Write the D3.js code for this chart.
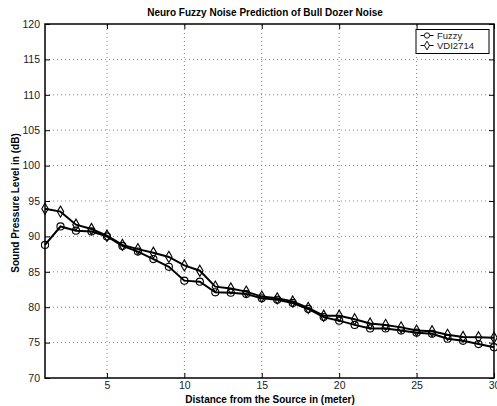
<!DOCTYPE html>
<html>
<head>
<meta charset="utf-8">
<script src="https://cdn.jsdelivr.net/npm/d3@7"></script>
<style>
  body { margin: 0; background: #fff; }
  svg { display: block; font-family: "Liberation Sans", Arial, sans-serif; }
</style>
</head>
<body>
<div id="chart"></div>
<script>
// distance in meters
const distance = d3.range(1, 31);
const fuzzy = [88.8, 91.4, 90.8, 90.7, 90.0, 88.65, 87.85, 86.8, 85.7, 83.75,
  83.6, 82.1, 82.05, 81.85, 81.25, 81.05, 80.6, 79.75, 78.6, 78.1,
  77.5, 77.0, 77.0, 76.7, 76.4, 76.25, 75.55, 75.25, 74.8, 74.35];
const vdi2714 = [93.9, 93.5, 91.65, 91.05, 90.1, 88.8, 88.2, 87.7, 87.1, 85.9,
  85.15, 82.9, 82.65, 82.2, 81.5, 81.25, 80.8, 79.9, 78.8, 78.8,
  78.3, 77.7, 77.5, 77.15, 76.7, 76.6, 76.1, 75.8, 75.75, 75.7];
const xTicks = [5, 10, 15, 20, 25, 30];
const yTicks = [70, 75, 80, 85, 90, 95, 100, 105, 110, 115, 120];

const W = 497, H = 406;
const m = { left: 45, right: 3, top: 24, bottom: 28 };

const svg = d3.select("#chart").append("svg").attr("width", W).attr("height", H);

const x = d3.scaleLinear().domain([1, 30]).range([m.left, W - m.right]);
const y = d3.scaleLinear().domain([70, 120]).range([H - m.bottom, m.top]);

// grid
const grid = svg.append("g").attr("stroke", "#666").attr("stroke-width", 0.8)
  .attr("stroke-dasharray", "1,3");
grid.selectAll(".gx").data(xTicks.filter(d => d < 30)).join("line")
  .attr("x1", d => x(d)).attr("x2", d => x(d))
  .attr("y1", y(70)).attr("y2", y(120));
grid.selectAll(".gy").data(yTicks.filter(d => d > 70 && d < 120)).join("line")
  .attr("y1", d => y(d)).attr("y2", d => y(d))
  .attr("x1", x(1)).attr("x2", x(30));

// axes with inward ticks
const axisStyle = g => {
  g.select(".domain").remove();
  g.selectAll("line").attr("stroke", "#000").attr("stroke-width", 1);
  g.selectAll("text").attr("font-size", 10.5).attr("fill", "#222");
};
svg.append("g").attr("transform", `translate(0,${y(70)})`)
  .call(d3.axisBottom(x).tickValues(xTicks).tickSizeInner(-5).tickSizeOuter(0).tickPadding(4))
  .call(axisStyle);
svg.append("g").attr("transform", `translate(${x(1)},0)`)
  .call(d3.axisLeft(y).tickValues(yTicks).tickSizeInner(-5).tickSizeOuter(0).tickPadding(5))
  .call(axisStyle);
svg.append("g").attr("transform", `translate(0,${y(120)})`)
  .call(d3.axisTop(x).tickValues(xTicks).tickSizeInner(-5).tickSizeOuter(0).tickFormat(""))
  .call(axisStyle);
svg.append("g").attr("transform", `translate(${x(30)},0)`)
  .call(d3.axisRight(y).tickValues(yTicks).tickSizeInner(-5).tickSizeOuter(0).tickFormat(""))
  .call(axisStyle);

// frame
svg.append("rect")
  .attr("x", x(1)).attr("y", y(120))
  .attr("width", x(30) - x(1)).attr("height", y(70) - y(120))
  .attr("fill", "none").attr("stroke", "#000").attr("stroke-width", 1.5);

// series
const series = [
  { name: "Fuzzy", values: fuzzy, symbol: d3.symbolCircle, size: 40 },
  { name: "VDI2714", values: vdi2714, symbol: d3.symbolDiamond, size: 36 }
];
const line = d3.line().x((d, i) => x(distance[i])).y(d => y(d));

series.forEach(s => {
  svg.append("path").datum(s.values)
    .attr("d", line).attr("fill", "none")
    .attr("stroke", "#000").attr("stroke-width", 2);
});
series.forEach(s => {
  svg.append("g").selectAll("path").data(s.values).join("path")
    .attr("transform", (d, i) => `translate(${x(distance[i])},${y(d)})`)
    .attr("d", d3.symbol().type(s.symbol).size(s.size))
    .attr("fill", "none").attr("stroke", "#000").attr("stroke-width", 1.1);
});

// title and labels
svg.append("text").attr("x", 265).attr("y", 16).attr("text-anchor", "middle")
  .attr("font-size", 10).attr("font-weight", "bold")
  .text("Neuro Fuzzy Noise Prediction of Bull Dozer Noise");
svg.append("text").attr("x", 270).attr("y", 403).attr("text-anchor", "middle")
  .attr("font-size", 10).attr("font-weight", "bold")
  .text("Distance from the Source in (meter)");
svg.append("text").attr("transform", "translate(18.5,203) rotate(-90)")
  .attr("text-anchor", "middle").attr("font-size", 10).attr("font-weight", "bold")
  .text("Sound Pressure Level in (dB)");

// legend
const lg = svg.append("g");
lg.append("rect").attr("x", 416).attr("y", 29.5).attr("width", 73).attr("height", 24)
  .attr("fill", "#fff").attr("stroke", "#000").attr("stroke-width", 1);
series.forEach((s, i) => {
  const ly = 35.5 + i * 10;
  lg.append("line").attr("x1", 420.5).attr("x2", 433.5).attr("y1", ly).attr("y2", ly)
    .attr("stroke", "#000").attr("stroke-width", 1);
  lg.append("path").attr("transform", `translate(427,${ly})`)
    .attr("d", d3.symbol().type(s.symbol).size(22))
    .attr("fill", "#fff").attr("stroke", "#000").attr("stroke-width", 0.9);
  lg.append("text").attr("x", 437).attr("y", ly + 3.5).attr("font-size", 9.5)
    .attr("fill", "#222").text(s.name);
});
</script>
</body>
</html>
